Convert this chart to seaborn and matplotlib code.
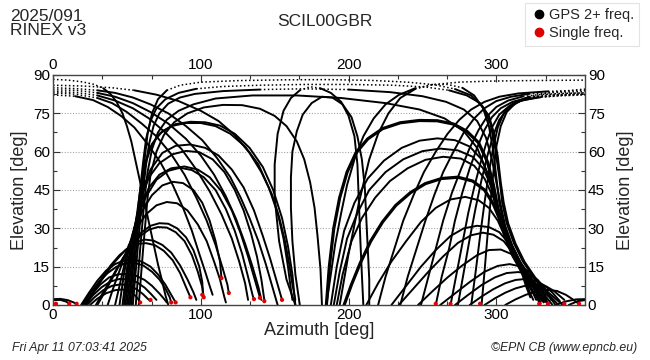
import matplotlib
matplotlib.use("Agg")
import matplotlib.pyplot as plt
from matplotlib.ticker import MultipleLocator
from matplotlib.lines import Line2D
import seaborn as sns
import pandas as pd

# ---------------- data (azimuth deg, elevation deg) ----------------
east_low_arcs = [
    [(25,0),(30,2.5),(36,4.6),(42,5.8),(47,6.1),(52,5.3),(56,3.5),(58,2),(59,1)],
    [(23,0),(28,3),(34,5.8),(40,7.5),(46,8.1),(52,7.6),(57,6),(61,4.2),(64,2.5),(66,1.5)],
    [(22,0),(27,3.8),(33,7),(39,9.2),(45,10.2),(51,10),(57,8.8),(62,6.8),(66,4.5),(70,2)],
    [(21,0),(26,4),(32,8),(38,10.8),(44,12),(50,12.2),(56,11.5),(62,9.8),(67,7.5),(72,4.5),(75,2.5),(77,1)],
    [(20,0),(25,4.5),(31,9),(37,12.5),(43,15),(49,16.3),(55,16.5),(61,15.5),(67,13),(72,10),(76,6.5),(79,3),(80,1)],
    [(19,0),(24,4.5),(30,9.5),(36,13.5),(42,16),(48,17.4),(54,17.8),(60,17),(66,15),(71,12),(76,8),(80,4),(83,1)],
    [(21,0),(27,5),(33,10.5),(39,15.5),(45,19.5),(51,22.3),(57,23.9),(63,24.2),(69,23.4),(75,21.2),(81,17.5),
     (86,12.5),(90,7),(93,3)],
    [(22,0),(28,5.5),(35,11.5),(42,17),(49,21.5),(56,24.5),(62,25.6),(68,25.2),(74,23.5),(80,20.5),(86,15.5),
     (91,10),(95,5),(97,2)],
    [(30,0),(36,6),(42,12.5),(48,19),(54,24.5),(60,28.5),(66,31),(72,32),(78,31.8),(84,30),(90,26.5),(95,21.5),
     (99,15),(101,9),(101.5,4)],
    [(29,0),(35,6),(41,12),(47,18),(53,23),(59,27),(65,29.5),(71,30.5),(77,30.3),(83,28.5),(89,25),(94,19.5),
     (98,13),(101,7),(102,3)],
    [(37,0),(41,7),(46,15),(51,23),(57,30.5),(63,35.5),(70,39),(77,40.3),(84,39.8),(91,37),(98,31.5),(104,25),
     (109,17),(113,10),(116,3),(117,1)],
    [(42,0),(46,10),(50,20),(55,29),(61,37.5),(67,43),(74,46.8),(81,48.2),(88,47.7),(95,45),(101,40),(106,33),
     (110,25),(113,17),(114,10.5)],
    [(45,0),(48,12),(52,24),(57,34),(63,42.5),(70,49),(78,52.5),(86,53.7),(94,52.8),(102,50),(110,45),(117,37.5),
     (123,29),(128,20),(132,11),(135,4),(136,2)],
    [(47,0),(50,14),(54,28),(59,38),(65,46),(72,51),(80,53.5),(89,54.2),(98,53),(106,50),(114,44.5),(121,37),
     (127,28),(132,19),(136,11),(139,5),(140,3)],
    [(48,0),(51,15),(55,30),(59,41),(65,50),(72,55.5),(81,59),(90,60.3),(99,59.8),(108,57),(116,52),(123,45),
     (129,37),(134,28),(138,19),(141,10),(143,2)],
    [(49,0),(52,16),(56,32),(60,44),(66,53),(74,59.5),(83,62.3),(93,62.8),(103,61.5),(112,58.5),(121,53),(129,46),
     (136,37),(142,27),(147,18),(151,10),(155,2)],
    [(50,0),(53,16),(56,32),(59,45),(62,55),(66,62),(72,67),(80,70),(90,71.2),(100,71.2),(110,70),(120,67),
     (130,62),(139,55),(146,46),(152,36),(156,26),(159,15),(161,6),(162,2)],
    [(51,0),(54,16),(57,32),(60,46),(63,56),(67,63),(74,68),(83,70.8),(93,71.7),(103,71.5),(113,70.2),(123,67),
     (133,61.5),(142,54),(149,45),(155,34),(159,23),(162,12),(164,0)],
]

east_descents = [
    [(0,88.3),(10,88),(20,87.3),(28,86.3),(34,84.8),(39,82.5),(43,79.5),(47,75),(50,70),(53,64),(56,56),(59,48),
     (62,40),(65,32),(68,24),(71,16),(74,9),(76,4),(78,0)],
    [(0,85),(15,84.7),(30,84),(42,83),(54,81.2),(66,78.5),(78,75),(90,70),(101,64.5),(111,57.5),(120,50),(127,42),
     (133,34),(139,25),(144,16),(148,8),(151,2),(152,0)],
    [(0,84.2),(15,84),(30,83),(42,81.5),(54,79),(66,75.5),(78,71),(90,65),(100,58.5),(109,51),(117,42.5),
     (124,33.5),(130,24),(135,15),(139,7),(141,2)],
    [(0,83.5),(15,83.2),(30,82),(42,80),(54,77),(65,73),(76,67.5),(87,61),(97,53),(106,44.5),(114,35.5),(121,26),
     (126,17),(130,8.5),(132,2)],
    [(0,83),(15,82.5),(30,81),(40,79),(50,75.5),(60,71),(70,66),(80,59),(89,51),(97,42),(104,33),(110,23.5),
     (115,14),(118,8),(119,4.7)],
    [(0,82.2),(15,81.7),(27,80.2),(37,77.5),(46,74),(55,69.5),(64,63),(73,55.5),(81,47),(88,38),(94,29),(99,20),
     (103,13),(106,7.5),(108,4)],
    [(0,86),(20,85.7),(40,85),(55,84),(70,82.3),(85,79.8),(100,76),(112,72),(123,66.5),(133,59.5),(141,52),
     (148,43.5),(153,34.5),(157,25),(160,15.5),(162,8),(164,2)],
]

west_rises = [
    [(185,0),(188,12),(191,24),(195,36),(199,47),(204,57),(210,66),(217,73),(225,78.5),(234,82.2),(245,84.8),
     (258,86.3),(275,87.2),(295,87.6),(320,87.8),(360,88)],
    [(220,0),(225,11),(231,22),(237,33),(244,43),(251,52),(259,60),(267,67),(275,72.5),(283,76.5),(292,79.5),
     (302,81.5),(315,82.8),(335,83.6),(360,84)],
    [(235,0),(240,11),(246,22),(252,33),(258,43),(264,52),(271,60),(278,67.5),(285,73),(292,77),(300,79.8),
     (310,81.5),(322,82.6),(340,83.2),(360,83.5)],
    [(249,0),(254,11),(259,22),(264,33),(270,44),(276,53),(282,61.5),(288,68.5),(294,74),(300,77.5),(308,80),
     (318,81.6),(330,82.4),(345,82.8),(360,83)],
    [(259,0),(263,11),(268,22),(272,33),(277,44),(282,53.5),(287,61.5),(292,68.5),(297,73.5),(303,77),(311,79.5),
     (322,81.2),(340,82.2),(360,82.5)],
    [(269,0),(273,12),(277,24),(281,36),(285,46),(289,55),(293,63),(297,69.5),(302,74.5),(309,78),(318,80.2),
     (330,81.3),(345,81.9),(360,82.2)],
    [(274,0),(278,13),(282,26),(286,38),(290,49),(294,58.5),(298,66.5),(302,72.5),(308,77),(316,79.8),(328,81.3),
     (345,82.1),(360,82.5)],
    [(283,0),(286,13),(289,27),(292,40),(295,52),(298,62),(301,69.5),(305,75),(311,78.8),(320,81),(335,82.3),
     (360,83)],
    [(290,0),(292,13),(294,27),(296,40),(298,52),(300,62),(303,70),(307,75.5),(313,79),(322,81.5),(338,83.3),
     (360,84.5)],
]

west_arcs = [
    [(306,0),(313,2.2),(320,4),(327,5.3),(334,5.9),(341,5.5),(347,4),(351,2.5),(354,1.2),(356,0.5)],
    [(292,0),(299,2.6),(306,4.8),(313,6.5),(320,7.6),(327,7.9),(334,7.2),(339,5.5),(343,3.5),(346,2)],
    [(282,0),(290,3.3),(298,6.2),(306,8.5),(313,9.8),(320,10.2),(327,9.4),(333,7.5),(338,4.8),(341,2.8),(343,1.5)],
    [(272,0),(281,4),(290,7.8),(299,10.8),(307,12.5),(315,12.9),(322,12),(328,9.8),(333,6.5),(336,3.5),(337,2)],
    [(262,0),(272,4.5),(282,9),(292,13),(301,15.3),(309,16),(317,15),(323,12.5),(328,8.8),(332,4.5),(335,0.5)],
    [(247,0),(257,5.5),(267,10.8),(277,15.5),(287,19.5),(295,21.5),(303,21.7),(310,20),(316,16.5),(321,12),
     (325,7),(329,2.5),(330,0.5)],
    [(234,0),(244,6.5),(254,13),(264,19),(274,24.3),(283,27.3),(291,28.3),(298,27.5),(305,25),(311,20.5),
     (316,15),(320,9),(323,4.5),(325,2)],
    [(229,0),(239,7.5),(249,15),(259,21.5),(269,27),(278,30),(287,31),(295,30.5),(302,28.5),(308,24.5),(313,19),
     (317,13),(320,7.5),(323,3)],
    [(212,0),(220,8.5),(229,17),(239,25),(249,32.5),(259,38),(269,41.3),(279,42.3),(288,41),(295,38),(301,33),
     (306,26.5),(311,20),(316,14),(321,8.5),(325,4.5),(327,2)],
    [(192,0),(196,12),(202,25),(209,34),(218,42),(228,48.5),(240,53.5),(252,56.8),(264,58),(276,57.3),(285,54.5),
     (292,49.5),(298,42),(302,34),(306,26),(311,19),(317,13),(324,7.5),(330,3),(332,1)],
    [(190,0),(194,13),(199,26),(206,36),(214,45),(225,52),(237,57),(250,60.2),(262,61.2),(274,60.5),(284,58),
     (291,53.5),(297,46),(301,37.5),(305,29),(310,21),(316,14),(322,8),(327,3.5),(329,1)],
    [(188,0),(192,15),(197,29),(204,40),(213,49.5),(224,56.5),(236,61.5),(248,64.3),(260,65.2),(272,64.5),
     (282,62),(290,57),(296,49),(300,40),(304,31),(309,23),(315,16),(321,10),(327,5),(331,1.5)],
]

thick_arcs = [
    [(197,0),(202,8),(208,16.5),(215,25),(223,32.5),(232,39),(242,44),(252,47.5),(263,49.5),(274,50),(284,48.5),
     (292,45),(298,39.5),(303,32.5),(308,25.5),(313,19),(319,13),(325,8),(330,4),(333,1.5)],
    [(185,0),(187,15),(190,30),(194,42),(199,52),(205,59.5),(213,65),(223,69),(235,71.3),(248,72.2),(260,72.1),
     (271,70.8),(280,68),(288,63.5),(294,56),(298,47),(301,38),(305,30),(310,22.5),(316,15.5),(323,9.5),
     (329,5),(333,2)],
]

high_passes = [
    [(53,0),(56,20),(59,40),(62,57),(64,67),(67,75),(71,80.5),(77,84),(86,86),(100,87.2),(125,87.8),(155,88.1),
     (185,88.2),(215,87.9),(240,87.2),(258,86.2),(272,84.5),(283,82),(291,77.5),(296,71),(299,62),(302,50),
     (304,40),(307,32),(312,24),(318,17),(325,11),(332,6),(338,2.5),(342,0)],
    [(52,0),(55,20),(58,40),(61,56),(63,65),(66,72),(70,77),(76,80.5),(85,83),(97,84.6),(115,85.5),(140,86),
     (170,86.3),(200,86.3),(230,86),(252,85.3),(268,84),(280,82),(289,79),(295,74),(298,68),(301,58),(303,48),
     (305,40),(308,32),(313,24),(319,17),(326,11),(333,6),(340,2.5),(345,0)],
    [(54,0),(57,20),(60,40),(63,55),(65,63),(68,70),(72,75),(78,78.8),(86,81.2),(96,82.6),(115,83.7),(140,84.3),
     (170,84.6),(200,84.3),(228,83.3),(250,81.7),(266,79.5),(278,76.5),(287,72),(293,65.5),(297,57),(300,48),
     (303,39),(306,31),(311,23),(317,16),(324,10),(331,5),(336,1.5),(338,0)],
    [(56,0),(59,22),(62,42),(64,52),(67,61),(71,67.5),(77,72.5),(85,76),(95,78.5),(110,80.8),(135,82),(165,82),
     (195,81),(225,79),(248,76.5),(265,73),(278,68),(287,61.5),(293,53),(297,45),(301,37),(305,29),(310,21.5),
     (316,14.5),(323,8.5),(330,4),(334,1)],
    [(58,0),(61,22),(64,42),(66,51),(70,60),(75,66.5),(82,71.5),(91,75),(102,77.3),(115,78.3),(128,78.2),
     (140,76.8),(150,74),(158,70),(165,64),(170,57),(174,48),(177,38),(179,27),(181,14),(182,0)],
    [(164,0),(158,10),(153,25),(150,42),(150,55),(152,67),(156,76),(161,81),(167,84),(174,85.4),(181,84.8),
     (188,83),(195,79.5),(200,74),(204,66),(206,55),(207,40),(208,25),(209,12),(210,0)],
    [(167,0),(164,12),(162,25),(161,38),(161,50),(162,60),(165,68),(169,74.5),(175,79),(182,81.5),(189,81.2),
     (196,78.5),(202,73.5),(206,66),(209,57),(211,46),(212,34),(213,22),(214,10),(214,0)],
    [(194,0),(200,20),(207,40),(214,57),(220,67),(227,75),(235,81),(245,84.5),(256,86.2),(267,86.3),(277,85),
     (285,82),(291,77),(295,70),(298,60),(300,50),(302,40),(305,32),(310,24),(316,17),(323,11),(330,6),
     (337,2.5),(340,0)],
]

wrap_bumps = [
    [(340,0),(347,1.4),(354,2.2),(360,2.3)],
    [(0,2.3),(5,2.4),(10,1.9),(14,1),(16,0.3)],
    [(349,0),(355,1.5),(360,1.9)],
    [(0,1.9),(5,2),(9,1.3),(11,0.5)],
]

red_az = [2, 11, 16, 59, 66, 80, 83, 93, 101, 102, 114, 119, 136, 140, 143, 155,
          259, 269, 289, 329, 335, 346, 356]
red_el = [0.5, 0.5, 0.5, 1, 2, 1, 1, 3, 4, 3, 10.5, 4.7, 2.3, 2.8, 1.5, 2,
          0.5, 0.5, 0.5, 0.5, 0.5, 0.5, 0.5]

station = "SCIL00GBR"
header = "2025/091\nRINEX v3"
footer_left = "Fri Apr 11 07:03:41 2025"
footer_right = "\u00a9EPN CB (www.epncb.eu)"
legend_labels = ["GPS 2+ freq.", "Single freq."]
x_ticks = [0, 100, 200, 300]
y_ticks = [0, 15, 30, 45, 60, 75, 90]

# ---------------- build segments ----------------
def is_dotted(p, q):
    if p[1] >= 84 and q[1] >= 84:
        return True
    if p[1] >= 81 and q[1] >= 81 and ((p[0] <= 32 and q[0] <= 32) or (p[0] >= 318 and q[0] >= 318)):
        return True
    return False

rows = []
unit = 0
def add_track(track, weight):
    global unit
    cur_kind = None
    for i in range(len(track) - 1):
        p, q = track[i], track[i + 1]
        kind = "dotted" if is_dotted(p, q) else weight
        if kind != cur_kind:
            unit += 1
            cur_kind = kind
            rows.append(dict(unit=unit, kind=kind, az=p[0], el=p[1]))
        rows.append(dict(unit=unit, kind=kind, az=q[0], el=q[1]))

for grp in [east_low_arcs, east_descents, west_rises, west_arcs, high_passes, wrap_bumps]:
    for t in grp:
        add_track(t, "solid")
for t in thick_arcs:
    add_track(t, "thick")

df = pd.DataFrame(rows)

# ---------------- plot ----------------
sns.set_theme(style="white")
plt.rcParams["font.family"] = ["Liberation Sans", "DejaVu Sans"]

fig = plt.figure(figsize=(6.5, 3.6), dpi=100)
ax = fig.add_axes([53/650, 1-305/360, 532/650, 230/360])

for y in y_ticks[1:-1]:
    ax.axhline(y, color="0.65", lw=0.8, ls=(0, (1, 1.5)), zorder=0)

sns.lineplot(data=df[df.kind == "solid"], x="az", y="el", units="unit", estimator=None,
             sort=False, color="black", lw=1.4, ax=ax, zorder=2)
sns.lineplot(data=df[df.kind == "thick"], x="az", y="el", units="unit", estimator=None,
             sort=False, color="black", lw=2.3, ax=ax, zorder=2)
n_before = len(ax.lines)
sns.lineplot(data=df[df.kind == "dotted"], x="az", y="el", units="unit", estimator=None,
             sort=False, color="black", lw=1.1, ax=ax, zorder=2)
for ln in ax.lines[n_before:]:
    ln.set_linestyle((0, (1, 1.6)))
for ln in ax.lines:
    ln.set_solid_joinstyle("round")

sns.scatterplot(x=red_az, y=red_el, color="#e00000", s=9, edgecolor="none", ax=ax, zorder=3)

ax.set_xlim(0, 360)
ax.set_ylim(0, 90)
ax.set_xticks(x_ticks)
ax.set_yticks(y_ticks)
ax.xaxis.set_minor_locator(MultipleLocator(100/3))
ax.yaxis.set_minor_locator(MultipleLocator(7.5))
ax.tick_params(which="both", direction="in", top=True, right=True, bottom=True, left=True,
               labeltop=True, labelright=True, labelsize=11, colors="#333333", labelcolor="black")
ax.tick_params(which="major", length=5, width=0.8, pad=2)
ax.tick_params(which="minor", length=3, width=0.8)
for s in ax.spines.values():
    s.set_color("#444444")
    s.set_linewidth(1.0)
    s.set_visible(True)

ax.set_xlabel("Azimuth [deg]", fontsize=13, labelpad=0)
ax.set_ylabel("Elevation [deg]", fontsize=13, labelpad=4)
fig.text(626/650, 1-190/360, "Elevation [deg]", rotation=90, fontsize=13, ha="center", va="center")

fig.text(325/650, 1-21/360, station, fontsize=12.5, ha="center", va="center")
fig.text(10/650, 1-9/360, header, fontsize=12.5, ha="left", va="top", linespacing=0.95)
fig.text(12/650, 1-348/360, footer_left, fontsize=8.8, style="italic", ha="left", va="center")
fig.text(637/650, 1-348/360, footer_right, fontsize=8.8, style="italic", ha="right", va="center")

handles = [Line2D([], [], marker="o", ls="none", color="black", markersize=6),
           Line2D([], [], marker="o", ls="none", color="#e00000", markersize=6)]
leg = fig.legend(handles, legend_labels, loc="upper right", bbox_to_anchor=(639/650, 1-3/360),
                 fontsize=10.5, frameon=True, fancybox=False, edgecolor="#dddddd",
                 handletextpad=0.1, handlelength=1.2, borderpad=0.35, labelspacing=0.3,
                 borderaxespad=0)
leg.get_frame().set_linewidth(0.8)

fig.savefig("out.png", dpi=100)
